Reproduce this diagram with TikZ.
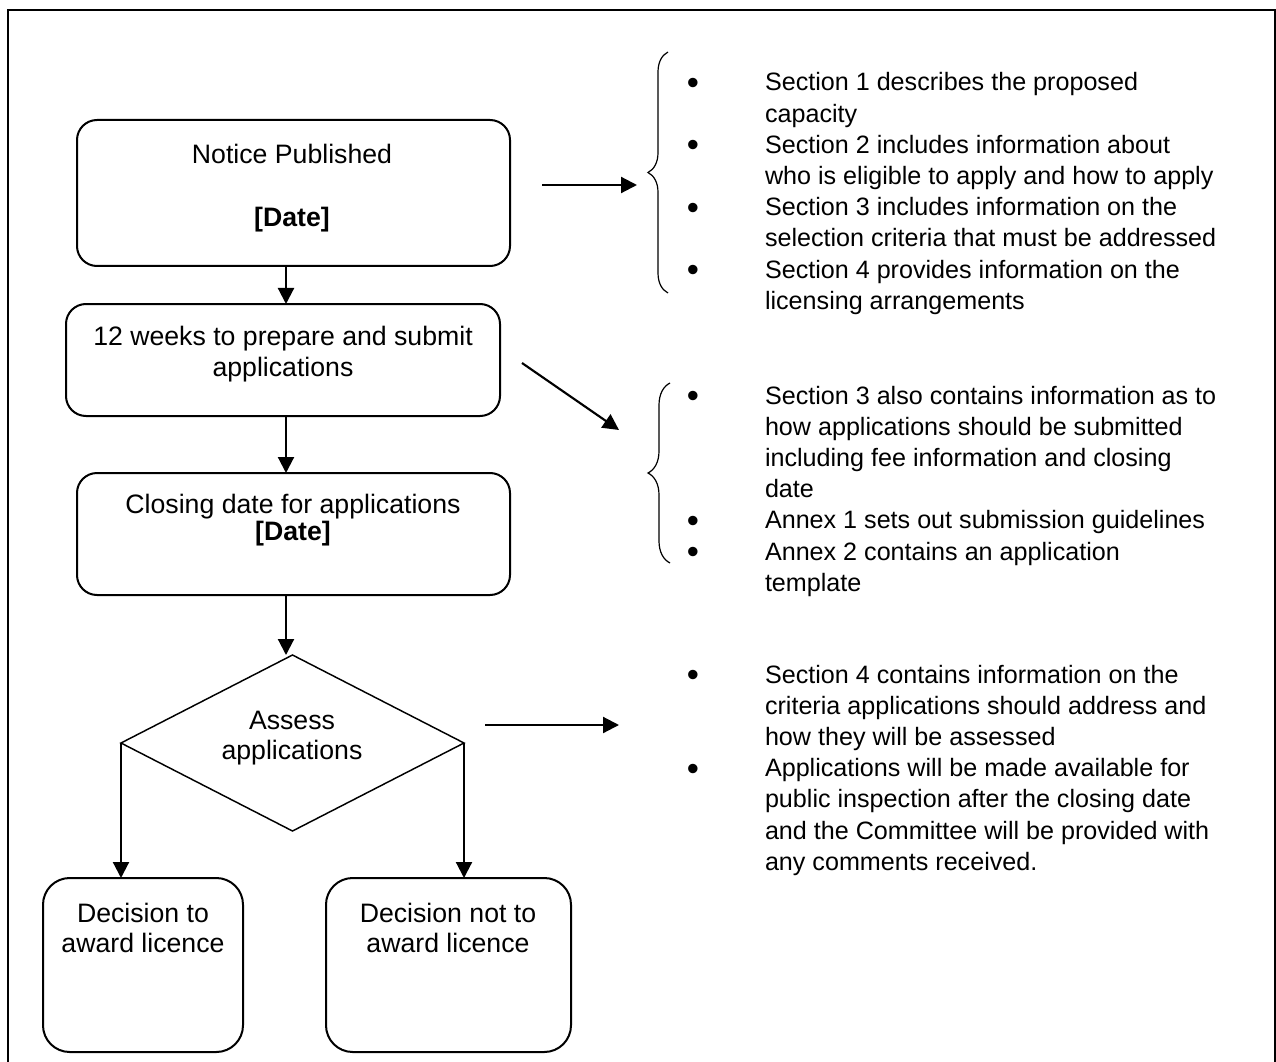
\documentclass[tikz,border=0pt]{standalone}
\usepackage{fontspec}
\setmainfont{Liberation Sans}
\usetikzlibrary{arrows.meta,shapes.geometric,decorations.pathreplacing}
\newcommand\bul{\makebox[12pt][c]{\raisebox{-2.6pt}{\fontsize{26pt}{0pt}\selectfont\textbullet}}}
\begin{document}
\begin{tikzpicture}[x=0.75pt,y=-0.75pt,
  every node/.style={inner sep=0pt, outer sep=0pt},
  ft/.style={font=\fontsize{18.85pt}{23.4pt}\selectfont},
  bft/.style={font=\fontsize{20pt}{24pt}\selectfont},
  box/.style={draw, line width=1.5pt, rounded corners=15pt},
  dbox/.style={draw, line width=1.5pt, rounded corners=20pt},
  txt/.style={bft, anchor=base},
  arr/.style={line width=1.6pt, -{Triangle[length=12pt,width=12pt]}},
  brc/.style={line width=0.9pt, decorate, decoration={brace, amplitude=15pt}},
  list/.style={ft, anchor=base west, align=left}
]
\useasboundingbox (0,0) rectangle (1276,1062);
\draw[line width=1.5pt] (8,1062) -- (8,10) -- (1275,10) -- (1275,1062);

% boxes
\node[box, minimum width=324.75pt, minimum height=109.5pt] (n1) at (293.5,193) {};
\node[box, minimum width=325.5pt, minimum height=84pt] (n2) at (283,360) {};
\node[box, minimum width=324.75pt, minimum height=91.5pt] (n3) at (293.5,534) {};
\node[draw, diamond, line width=1.1pt, minimum width=257.25pt, minimum height=132pt] (dia) at (292.5,743) {};
\node[dbox, minimum width=150pt, minimum height=130.5pt] (lb) at (143,965) {};
\node[dbox, minimum width=183.75pt, minimum height=130.5pt] (rb) at (448.5,965) {};

% box texts
\node[txt] (t1a) at (292,164) {Notice Published};
\node[txt] (t1b) at (292,227) {\bfseries [Date]};
\node[txt] (t2a) at (283,345) {12 weeks to prepare and submit};
\node[txt] (t2b) at (283,376) {applications};
\node[txt] (t3a) at (293,513) {Closing date for applications};
\node[txt] (t3b) at (293,540) {\bfseries [Date]};
\node[txt] (tda) at (292,729) {Assess};
\node[txt] (tdb) at (292,759) {applications};
\node[txt] (tla) at (143,922) {Decision to};
\node[txt] (tlb) at (143,952) {award licence};
\node[txt] (tra) at (448,922) {Decision not to};
\node[txt] (trb) at (448,952) {award licence};

% flow arrows
\coordinate (ax) at (286,0);
\draw[arr] (n1.south -| ax) -- (n2.north -| ax);
\draw[arr] (n2.south -| ax) -- (n3.north -| ax);
\draw[arr] (n3.south -| ax) -- (dia.north -| ax);
\draw[arr] (dia.west) -- (dia.west |- lb.north);
\draw[arr] (dia.east) -- (dia.east |- rb.north);

% side arrows
\coordinate (a1s) at (542,185); \coordinate (a1e) at (637,185);
\coordinate (a2s) at (522,363); \coordinate (a2e) at (619,430);
\coordinate (a3s) at (485,725); \coordinate (a3e) at (619,725);
\draw[arr] (a1s) -- (a1e);
\draw[arr] (a2s) -- (a2e);
\draw[arr] (a3s) -- (a3e);

% braces
\coordinate (b1t) at (668,52); \coordinate (b1b) at (668,293);
\coordinate (b2t) at (670,383); \coordinate (b2b) at (670,563);
\draw[brc] (b1b) -- (b1t);
\draw[brc, decoration={brace, amplitude=16.5pt}] (b2b) -- (b2t);

% lists
\node[list] (l1) at (685,91) {\begin{tabular}[t]{@{}p{60pt}@{}l@{}}
\bul & Section 1 describes the proposed\\
 & capacity\\
\bul & Section 2 includes information about\\
 & who is eligible to apply and how to apply\\
\bul & Section 3 includes information on the\\
 & selection criteria that must be addressed\\
\bul & Section 4 provides information on the\\
 & licensing arrangements
\end{tabular}};
\node[list] (l2) at (685,404) {\begin{tabular}[t]{@{}p{60pt}@{}l@{}}
\bul & Section 3 also contains information as to\\
 & how applications should be submitted\\
 & including fee information and closing\\
 & date\\
\bul & Annex 1 sets out submission guidelines\\
\bul & Annex 2 contains an application\\
 & template
\end{tabular}};
\node[list] (l3) at (685,683) {\begin{tabular}[t]{@{}p{60pt}@{}l@{}}
\bul & Section 4 contains information on the\\
 & criteria applications should address and\\
 & how they will be assessed\\
\bul & Applications will be made available for\\
 & public inspection after the closing date\\
 & and the Committee will be provided with\\
 & any comments received.
\end{tabular}};
\end{tikzpicture}
\end{document}
